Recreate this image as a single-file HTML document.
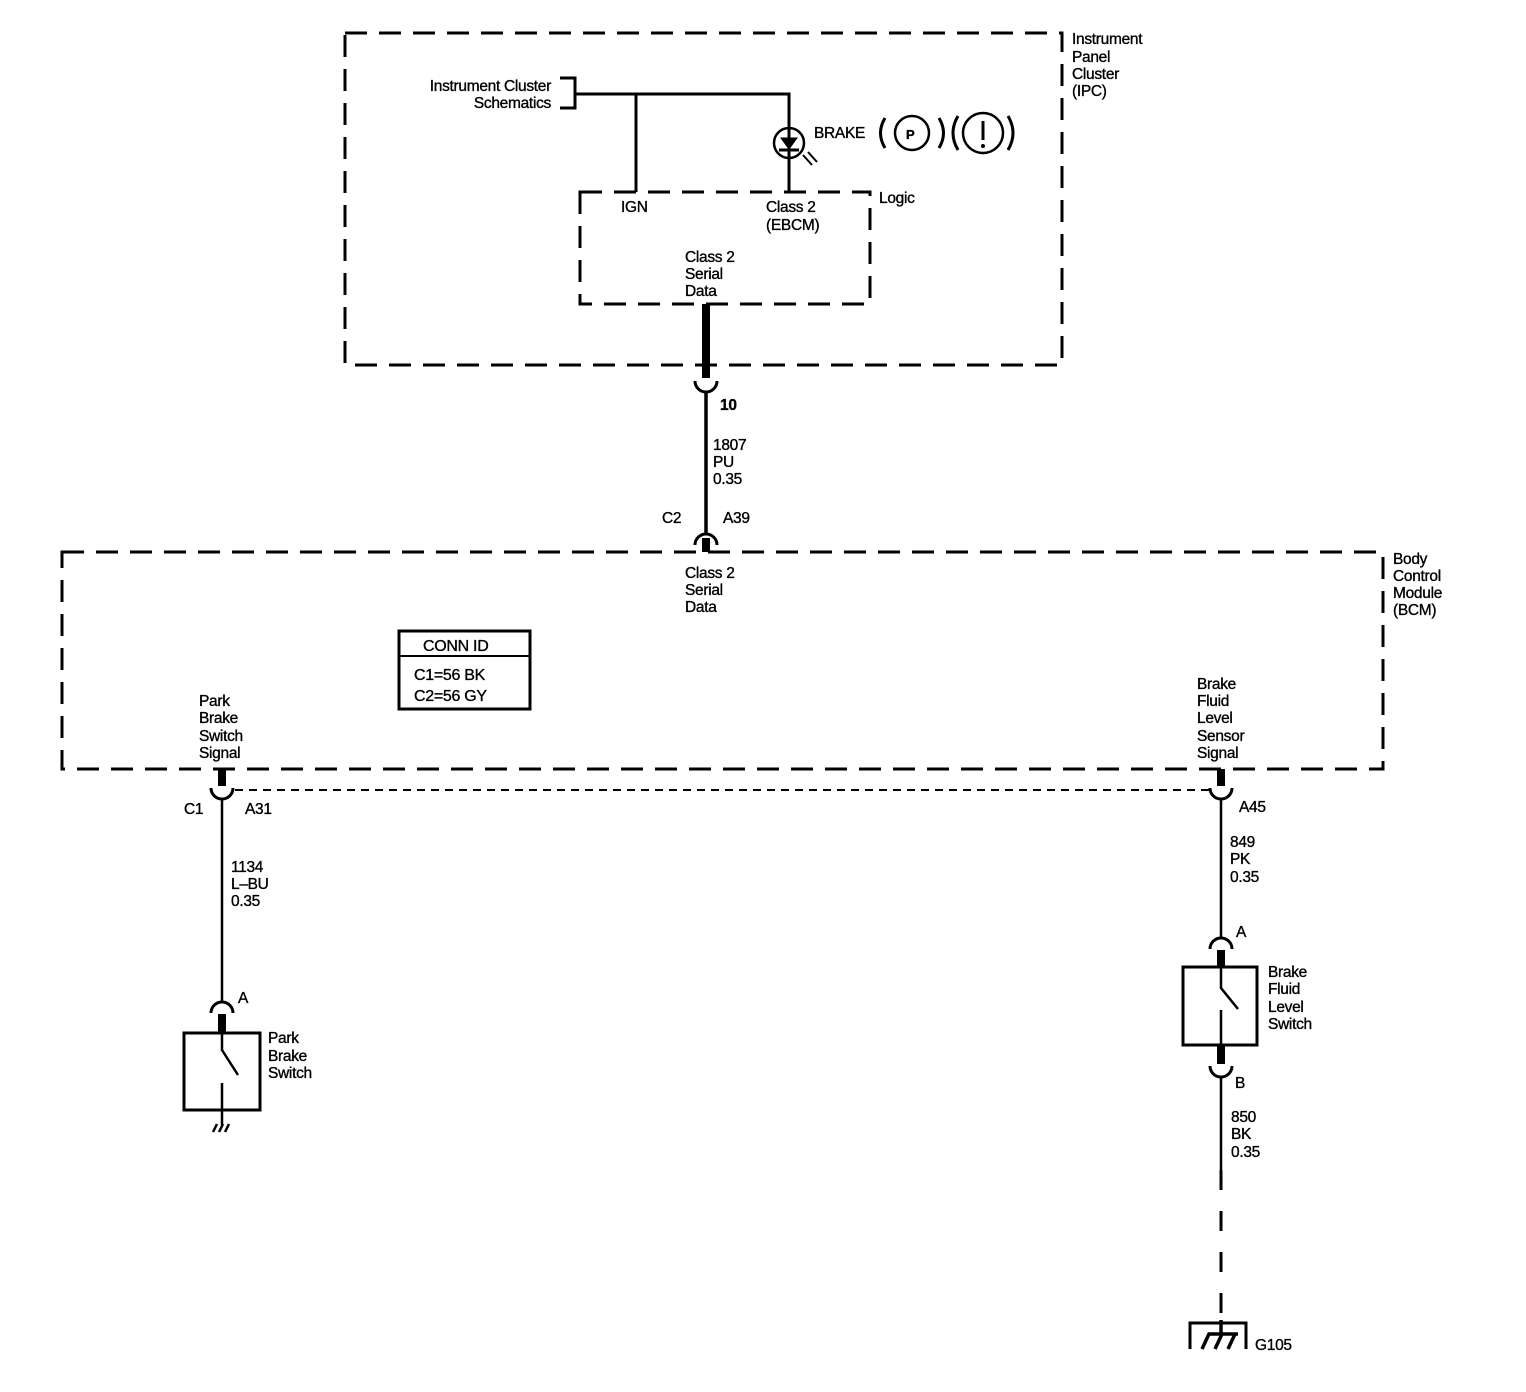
<!DOCTYPE html>
<html><head><meta charset="utf-8"><style>
html,body{margin:0;padding:0;background:#fff}
svg{display:block}
text{font-family:"Liberation Sans",sans-serif;font-size:15.5px;fill:#000;letter-spacing:-0.3px;stroke:#000;stroke-width:0.35px}
</style></head><body>
<svg width="1526" height="1392" viewBox="0 0 1526 1392" xmlns="http://www.w3.org/2000/svg">
<g fill="none" stroke="#000">
<rect x="345" y="33" width="717" height="332" stroke-width="3" stroke-dasharray="22,12"/>
<rect x="580" y="192" width="290" height="112" stroke-width="3" stroke-dasharray="22,12"/>
<rect x="62" y="552" width="1321" height="217" stroke-width="3" stroke-dasharray="22,12"/>
<path d="M560,78 H575 V108 H560" stroke-width="3"/>
<path d="M575,94 H789 V128 M789,158 V192 M636,94 V192" stroke-width="3"/>
<circle cx="789" cy="143" r="15" stroke-width="2.5"/>
<path d="M789,128 V158 M779,150 H799" stroke-width="3"/>
<path d="M781,138 H797 L789,149 Z" fill="#000" stroke-width="1"/>
<path d="M803,155 L812,165 M808,152 L817,162" stroke-width="2"/>
<path d="M885,118 Q876,133 885,148 M939,118 Q948,133 939,148 M958,116 Q948,133 958,150 M1008,116 Q1018,133 1008,150" stroke-width="3"/>
<circle cx="912" cy="133" r="17" stroke-width="2.5"/>
<circle cx="983" cy="133" r="20" stroke-width="2.5"/>
<path d="M983,121 V140" stroke-width="3"/>
<path d="M706,304 V378" stroke-width="8"/>
<path d="M695,381 A11,11 0 0 0 717,381" stroke-width="3"/>
<path d="M706,392 V534" stroke-width="3.5"/>
<path d="M695,545 A11,11 0 0 1 717,545" stroke-width="3"/>
<path d="M706,538 V552" stroke-width="8"/>
<rect x="399" y="631" width="131" height="78" stroke-width="3"/>
<path d="M399,656 H530" stroke-width="2"/>
<path d="M222,769 V786" stroke-width="8"/>
<path d="M211,788 A11,11 0 0 0 233,788" stroke-width="3"/>
<path d="M235,790 H1210" stroke-width="2" stroke-dasharray="8,6"/>
<path d="M222,799 V1003" stroke-width="2.5"/>
<path d="M211,1013 A11,11 0 0 1 233,1013" stroke-width="3"/>
<path d="M222,1014 V1033" stroke-width="8"/>
<rect x="184" y="1033" width="76" height="77" stroke-width="3"/>
<path d="M222,1033 V1050 L238,1075 M222,1083 V1125" stroke-width="2.5"/>
<path d="M213,1132 L217,1124 M219,1132 L223,1124 M225,1132 L229,1124" stroke-width="2.5"/>
<path d="M1221,769 V786" stroke-width="8"/>
<path d="M1210,788 A11,11 0 0 0 1232,788" stroke-width="3"/>
<path d="M1221,799 V939" stroke-width="2.5"/>
<path d="M1210,949 A11,11 0 0 1 1232,949" stroke-width="3"/>
<path d="M1221,950 V967" stroke-width="8"/>
<rect x="1183" y="967" width="74" height="78" stroke-width="3"/>
<path d="M1221,967 V988 L1238,1009 M1221,1010 V1045" stroke-width="2.5"/>
<path d="M1221,1045 V1064" stroke-width="8"/>
<path d="M1210,1066 A11,11 0 0 0 1232,1066" stroke-width="3"/>
<path d="M1221,1077 V1170" stroke-width="2.5"/>
<path d="M1221,1170 V1330" stroke-width="3" stroke-dasharray="20,21"/>
<path d="M1190,1349 V1323 H1246 V1349" stroke-width="3"/>
<path d="M1202,1349 L1209,1334 H1238 M1215,1349 L1222,1334 M1228,1349 L1235,1334 M1221,1320 V1334" stroke-width="3.5"/>
</g>
<g>
<text x="1072" y="44">Instrument</text><text x="1072" y="62">Panel</text><text x="1072" y="79">Cluster</text><text x="1072" y="96">(IPC)</text>
<text x="551" y="91" text-anchor="end">Instrument Cluster</text>
<text x="551" y="108" text-anchor="end">Schematics</text>
<text x="814" y="138">BRAKE</text>
<text x="906" y="139" style="font-size:13px;font-weight:bold">P</text>
<circle cx="983" cy="146" r="2"/>
<text x="879" y="203">Logic</text>
<text x="621" y="212">IGN</text>
<text x="766" y="212">Class 2</text><text x="766" y="230">(EBCM)</text>
<text x="685" y="262">Class 2</text><text x="685" y="279">Serial</text><text x="685" y="296">Data</text>
<text x="720" y="410" style="font-weight:bold">10</text>
<text x="713" y="450">1807</text><text x="713" y="467">PU</text><text x="713" y="484">0.35</text>
<text x="662" y="523">C2</text><text x="723" y="523">A39</text>
<text x="685" y="578">Class 2</text><text x="685" y="595">Serial</text><text x="685" y="612">Data</text>
<text x="1393" y="564">Body</text><text x="1393" y="581">Control</text><text x="1393" y="598">Module</text><text x="1393" y="615">(BCM)</text>
<text x="423" y="651" style="font-size:16px">CONN ID</text>
<text x="414" y="680" style="font-size:16px">C1=56 BK</text>
<text x="414" y="701" style="font-size:16px">C2=56 GY</text>
<text x="199" y="706">Park</text><text x="199" y="723">Brake</text><text x="199" y="741">Switch</text><text x="199" y="758">Signal</text>
<text x="1197" y="689">Brake</text><text x="1197" y="706">Fluid</text><text x="1197" y="723">Level</text><text x="1197" y="741">Sensor</text><text x="1197" y="758">Signal</text>
<text x="184" y="814">C1</text><text x="245" y="814">A31</text>
<text x="1239" y="812">A45</text>
<text x="231" y="872">1134</text><text x="231" y="889">L–BU</text><text x="231" y="906">0.35</text>
<text x="1230" y="847">849</text><text x="1230" y="864">PK</text><text x="1230" y="882">0.35</text>
<text x="238" y="1003">A</text>
<text x="1236" y="937">A</text>
<text x="268" y="1043">Park</text><text x="268" y="1061">Brake</text><text x="268" y="1078">Switch</text>
<text x="1268" y="977">Brake</text><text x="1268" y="994">Fluid</text><text x="1268" y="1012">Level</text><text x="1268" y="1029">Switch</text>
<text x="1235" y="1088">B</text>
<text x="1231" y="1122">850</text><text x="1231" y="1139">BK</text><text x="1231" y="1157">0.35</text>
<text x="1255" y="1350">G105</text>
</g>
</svg>
</body></html>
